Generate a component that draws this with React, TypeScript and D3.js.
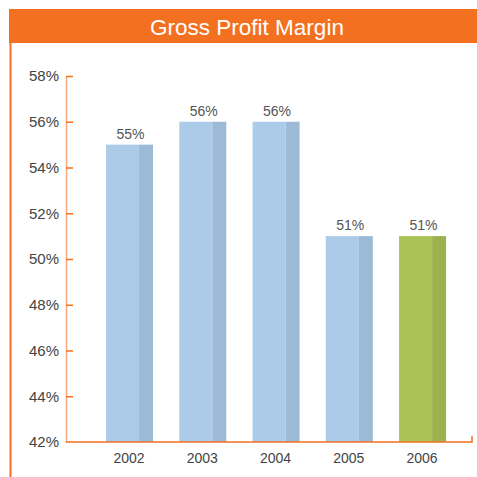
import React, { useEffect, useRef } from "react";
import * as d3 from "d3";

const years = ["2002", "2003", "2004", "2005", "2006"];
const margins = [55, 56, 56, 51, 51];
const yTicks = [42, 44, 46, 48, 50, 52, 54, 56, 58];
const title = "Gross Profit Margin";

const W = 477;
const H = 477;
const ORANGE = "#f37021";
const FONT = "'Liberation Sans', Arial, Helvetica, sans-serif";

export default function App() {
  const ref = useRef<SVGSVGElement>(null);

  useEffect(() => {
    const svg = d3.select(ref.current);
    svg.selectAll("*").remove();

    // header band + left rule
    svg.append("rect").attr("x", 9).attr("y", 9).attr("width", W - 9).attr("height", 34).attr("fill", ORANGE);
    svg.append("line").attr("x1", 10.5).attr("x2", 10.5).attr("y1", 43).attr("y2", H)
      .attr("stroke", ORANGE).attr("stroke-width", 2);
    svg.append("text").attr("x", 247).attr("y", 35).attr("text-anchor", "middle")
      .attr("fill", "#fff").style("font-family", FONT).style("font-size", "22.5px").text(title);

    const y = d3.scaleLinear().domain([42, 58]).range([442, 76]);
    const x = d3.scaleBand().domain(years).range([92.9, 459.2]).paddingInner(0.358).paddingOuter(0.179);

    // bars
    const bw = x.bandwidth();
    const darkW = 14;
    const g = svg.append("g");
    years.forEach((yr, i) => {
      const v = margins[i];
      const last = i === years.length - 1;
      const x0 = x(yr)!;
      g.append("rect").attr("x", x0).attr("y", y(v)).attr("width", bw - darkW).attr("height", y(42) - y(v))
        .attr("fill", last ? "#abc356" : "#abcbe9");
      g.append("rect").attr("x", x0 + bw - darkW).attr("y", y(v)).attr("width", darkW).attr("height", y(42) - y(v))
        .attr("fill", last ? "#9db24f" : "#9cbad6");
      g.append("text").attr("x", x0 + bw / 2 + 1).attr("y", y(v) - 6).attr("text-anchor", "middle")
        .attr("fill", "#555").style("font-family", FONT).style("font-size", "14px").text(`${v}%`);
    });

    // y axis
    const ya = svg.append("g").attr("transform", "translate(66,0)")
      .call(d3.axisLeft(y).tickValues(yTicks).tickFormat((d) => `${d}%`).tickSizeInner(-7).tickSizeOuter(0).tickPadding(7));
    ya.select(".domain").attr("stroke", "#f8a67a").attr("stroke-width", 1.5);
    ya.selectAll(".tick line").attr("stroke", ORANGE).attr("stroke-width", 1.5);
    ya.selectAll(".tick").filter((d: any) => d === 42).select("line").remove();
    ya.selectAll("text").attr("fill", "#444").style("font-family", FONT).style("font-size", "15px");

    // x axis
    svg.append("path").attr("d", "M66,442H472V436").attr("fill", "none").attr("stroke", ORANGE).attr("stroke-width", 1.5);
    const xa = svg.append("g").attr("transform", "translate(-0.5,442)")
      .call(d3.axisBottom(x).tickSize(0).tickPadding(11));
    xa.select(".domain").remove();
    xa.selectAll("text").attr("fill", "#444").style("font-family", FONT).style("font-size", "14px");
  }, []);

  return (
    <svg ref={ref} width={W} height={H} style={{ position: "absolute", left: 0, top: 0, background: "#fff" }} />
  );
}
